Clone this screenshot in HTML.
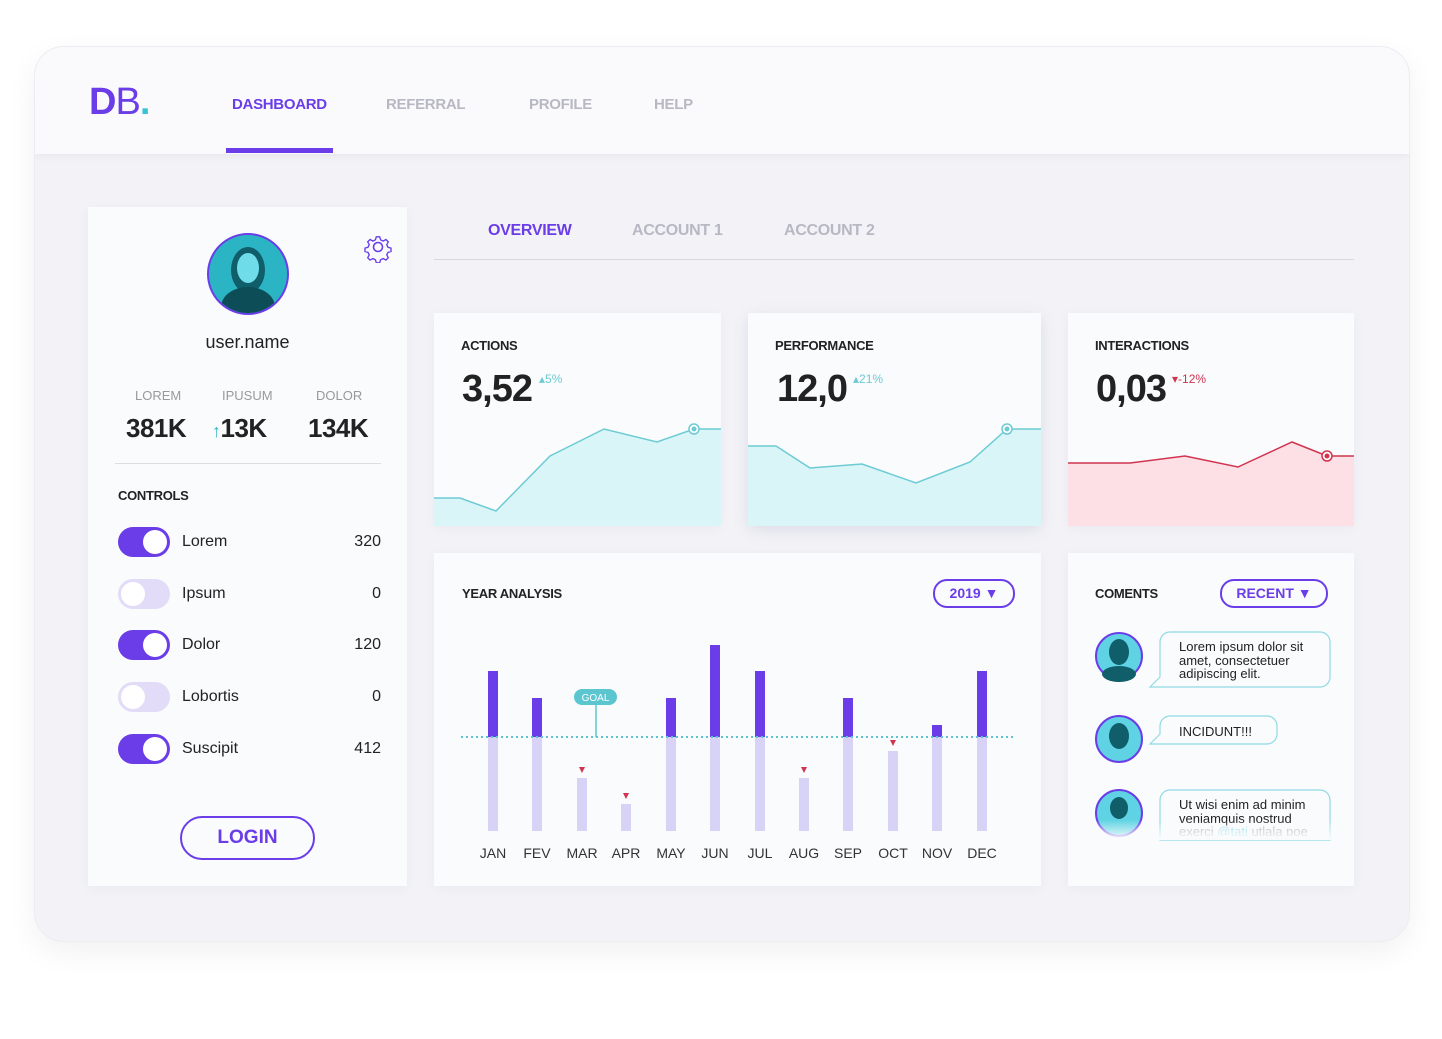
<!DOCTYPE html>
<html><head><meta charset="utf-8"><style>
body{margin:0;width:1442px;height:1039px;background:#fff;font-family:"Liberation Sans",sans-serif;position:relative;overflow:hidden}
.a{position:absolute}
.outer{left:34px;top:46px;width:1374px;height:894px;border-radius:30px;background:#f3f3f7;box-shadow:0 10px 30px rgba(0,0,0,.06);overflow:hidden;border:1px solid #ececf2}
.hdr{left:0;top:0;width:1374px;height:107px;background:#fafafc;box-shadow:0 2px 8px rgba(0,0,0,.05)}
.card{background:#fafbfd;box-shadow:0 2px 10px rgba(60,60,120,.06)}
.nav{font-weight:bold;font-size:15px;color:#b8b8c4;letter-spacing:-0.3px}
.t{font-size:13px;font-weight:bold;color:#222;letter-spacing:-0.3px}
.tog{width:52px;height:30px;border-radius:15px}
.tog i{position:absolute;top:3px;width:24px;height:24px;border-radius:50%;background:#fff}
.lbl{font-size:16px;color:#222}
.num{font-size:16px;color:#222;text-align:right;width:40px}
.big{font-size:38px;font-weight:bold;color:#222;letter-spacing:-1px}
</style></head><body>
<div class="a outer">
 <div class="a hdr">
  <div class="a" style="left:54px;top:34px;font-size:38px;font-weight:bold;color:#6a3de8;letter-spacing:-1px">D<span style="font-weight:normal">B</span><span style="color:#39c4d4">.</span></div>
  <div class="a nav" style="left:197px;top:49px;color:#6a3de8">DASHBOARD</div>
  <div class="a" style="left:191px;top:101px;width:107px;height:5px;background:#6a3de8"></div>
  <div class="a nav" style="left:351px;top:49px">REFERRAL</div>
  <div class="a nav" style="left:494px;top:49px">PROFILE</div>
  <div class="a nav" style="left:619px;top:49px">HELP</div>
 </div>
</div>
<!-- left card -->
<div class="a card" style="left:88px;top:207px;width:319px;height:679px"></div>
<div class="a" style="left:207px;top:233px;width:78px;height:78px;border-radius:50%;border:2px solid #6a3de8;background:#2bb5c4;overflow:hidden"><div class="a" style="left:22px;top:12px;width:34px;height:46px;border-radius:50%;background:#0f5e6a"></div><div class="a" style="left:28px;top:18px;width:22px;height:30px;border-radius:50%;background:#6fdcea"></div><div class="a" style="left:12px;top:52px;width:54px;height:40px;border-radius:50%;background:#0c4d57"></div></div>
<svg class="a" style="left:362px;top:231px" width="32" height="32" viewBox="0 0 32 32"><g fill="none" stroke="#6a3de8" stroke-width="1.6"><circle cx="16" cy="16" r="4.5"/><path d="M14,4h4l1,3.5 3,1.5 3.3-1.8 2.8,2.8-1.8,3.3 1.5,3 3.5,1v4l-3.5,1-1.5,3 1.8,3.3-2.8,2.8-3.3-1.8-3,1.5-1,3.5h-4l-1-3.5-3-1.5-3.3,1.8-2.8-2.8 1.8-3.3-1.5-3-3.5-1v-4l3.5-1 1.5-3-1.8-3.3 2.8-2.8 3.3,1.8 3-1.5z" transform="translate(16 16) scale(.85) translate(-16 -16)"/></g></svg>
<div class="a" style="left:88px;top:332px;width:319px;text-align:center;font-size:18px;color:#222">user.name</div>
<div class="a" style="left:135px;top:388px;font-size:13px;color:#999">LOREM</div>
<div class="a" style="left:222px;top:388px;font-size:13px;color:#999">IPUSUM</div>
<div class="a" style="left:316px;top:388px;font-size:13px;color:#999">DOLOR</div>
<div class="a" style="left:126px;top:413px;font-size:26px;font-weight:bold;color:#222;letter-spacing:-0.5px">381K</div>
<div class="a" style="left:212px;top:413px;font-size:26px;font-weight:bold;color:#222;letter-spacing:-0.5px"><span style="color:#39b4c4;font-size:18px;font-weight:normal">↑</span>13K</div>
<div class="a" style="left:308px;top:413px;font-size:26px;font-weight:bold;color:#222;letter-spacing:-0.5px">134K</div>
<div class="a" style="left:115px;top:463px;width:266px;height:1px;background:#ddd"></div>
<div class="a t" style="left:118px;top:488px">CONTROLS</div>
<div class="a tog" style="left:118px;top:527px;background:#6a3de8"><i style="left:25px"></i></div>
<div class="a tog" style="left:118px;top:579px;background:#e2dcf8"><i style="left:3px"></i></div>
<div class="a tog" style="left:118px;top:630px;background:#6a3de8"><i style="left:25px"></i></div>
<div class="a tog" style="left:118px;top:682px;background:#e2dcf8"><i style="left:3px"></i></div>
<div class="a tog" style="left:118px;top:734px;background:#6a3de8"><i style="left:25px"></i></div>
<div class="a lbl" style="left:182px;top:533px">Lorem</div><div class="a num" style="left:341px;top:533px">320</div>
<div class="a lbl" style="left:182px;top:585px">Ipsum</div><div class="a num" style="left:341px;top:585px">0</div>
<div class="a lbl" style="left:182px;top:636px">Dolor</div><div class="a num" style="left:341px;top:636px">120</div>
<div class="a lbl" style="left:182px;top:688px">Lobortis</div><div class="a num" style="left:341px;top:688px">0</div>
<div class="a lbl" style="left:182px;top:740px">Suscipit</div><div class="a num" style="left:341px;top:740px">412</div>
<div class="a" style="left:180px;top:816px;width:131px;height:40px;border:2px solid #6a3de8;border-radius:22px;text-align:center;line-height:40px;font-size:19px;font-weight:bold;color:#6a3de8">LOGIN</div>
<!-- tabs -->
<div class="a nav" style="left:488px;top:222px;font-size:16px;color:#6a3de8">OVERVIEW</div>
<div class="a nav" style="left:632px;top:222px;font-size:16px">ACCOUNT 1</div>
<div class="a nav" style="left:784px;top:222px;font-size:16px">ACCOUNT 2</div>
<div class="a" style="left:434px;top:259px;width:920px;height:1px;background:#d8d8e0"></div>
<!-- stat cards -->
<div class="a card" style="left:434px;top:313px;width:287px;height:213px"></div>
<div class="a card" style="left:748px;top:313px;width:293px;height:213px;box-shadow:0 4px 16px rgba(60,60,120,.12)"></div>
<div class="a card" style="left:1068px;top:313px;width:286px;height:213px"></div>
<svg class="a" style="left:0;top:0" width="1442" height="1039">
<polygon points="434,498 460,498 496,511 550,456 604,429 657,442 694,429 721,429 721,526 434,526" fill="#daf5f8"/>
<polyline points="434,498 460,498 496,511 550,456 604,429 657,442 694,429 721,429" fill="none" stroke="#6ccbd4" stroke-width="1.5"/>
<circle cx="694" cy="429" r="5" fill="#fff" stroke="#6ccbd4" stroke-width="1.5"/><circle cx="694" cy="429" r="2.5" fill="#6ccbd4"/>
<polygon points="748,446 776,446 810,468 862,464 916,483 970,462 1007,429 1041,429 1041,526 748,526" fill="#daf5f8"/>
<polyline points="748,446 776,446 810,468 862,464 916,483 970,462 1007,429 1041,429" fill="none" stroke="#6ccbd4" stroke-width="1.5"/>
<circle cx="1007" cy="429" r="5" fill="#fff" stroke="#6ccbd4" stroke-width="1.5"/><circle cx="1007" cy="429" r="2.5" fill="#6ccbd4"/>
<polygon points="1068,463 1130,463 1185,456 1238,467 1292,442 1327,456 1354,456 1354,526 1068,526" fill="#fde0e6"/>
<polyline points="1068,463 1130,463 1185,456 1238,467 1292,442 1327,456 1354,456" fill="none" stroke="#d0344e" stroke-width="1.5"/>
<circle cx="1327" cy="456" r="5" fill="#fff" stroke="#d0344e" stroke-width="1.5"/><circle cx="1327" cy="456" r="2.5" fill="#d0344e"/>
</svg>
<div class="a t" style="left:461px;top:338px">ACTIONS</div>
<div class="a big" style="left:462px;top:368px">3,52</div>
<div class="a" style="left:539px;top:372px;font-size:12px;color:#6ccbd4">▴5%</div>
<div class="a t" style="left:775px;top:338px">PERFORMANCE</div>
<div class="a big" style="left:777px;top:368px">12,0</div>
<div class="a" style="left:853px;top:372px;font-size:12px;color:#6ccbd4">▴21%</div>
<div class="a t" style="left:1095px;top:338px">INTERACTIONS</div>
<div class="a big" style="left:1096px;top:368px">0,03</div>
<div class="a" style="left:1172px;top:372px;font-size:12px;color:#d0344e">▾-12%</div>
<!-- year analysis -->
<div class="a card" style="left:434px;top:553px;width:607px;height:333px"></div>
<div class="a t" style="left:462px;top:586px">YEAR ANALYSIS</div>
<div class="a" style="left:933px;top:579px;width:78px;height:25px;border:2px solid #6a3de8;border-radius:14px;text-align:center;line-height:25px;font-size:14px;font-weight:bold;color:#6a3de8">2019 ▼</div>
<svg class="a" style="left:0;top:0" width="1442" height="1039">
<g fill="#d9d2f7">
<rect x="488" y="737" width="10" height="94"/><rect x="532" y="737" width="10" height="94"/><rect x="577" y="778" width="10" height="53"/><rect x="621" y="804" width="10" height="27"/><rect x="666" y="737" width="10" height="94"/><rect x="710" y="737" width="10" height="94"/><rect x="755" y="737" width="10" height="94"/><rect x="799" y="778" width="10" height="53"/><rect x="843" y="737" width="10" height="94"/><rect x="888" y="751" width="10" height="80"/><rect x="932" y="737" width="10" height="94"/><rect x="977" y="737" width="10" height="94"/>
</g>
<g fill="#6a3de8">
<rect x="488" y="671" width="10" height="66"/><rect x="532" y="698" width="10" height="39"/><rect x="666" y="698" width="10" height="39"/><rect x="710" y="645" width="10" height="92"/><rect x="755" y="671" width="10" height="66"/><rect x="843" y="698" width="10" height="39"/><rect x="932" y="725" width="10" height="12"/><rect x="977" y="671" width="10" height="66"/>
</g>
<line x1="461" y1="737" x2="1014" y2="737" stroke="#5cc6d0" stroke-width="2" stroke-dasharray="2,3"/>
<line x1="596" y1="703" x2="596" y2="737" stroke="#5cc6d0" stroke-width="1.5"/>
<rect x="574" y="689" width="43" height="16" rx="8" fill="#5cc6d0"/>
<text x="595.5" y="701" font-size="10" fill="#fff" text-anchor="middle" font-family="Liberation Sans">GOAL</text>
<g fill="#d0344e"><polygon points="579,767 585,767 582,773"/><polygon points="623,793 629,793 626,799"/><polygon points="801,767 807,767 804,773"/><polygon points="890,740 896,740 893,746"/></g>
<g font-size="14" fill="#333" text-anchor="middle" font-family="Liberation Sans">
<text x="493" y="858">JAN</text><text x="537" y="858">FEV</text><text x="582" y="858">MAR</text><text x="626" y="858">APR</text><text x="671" y="858">MAY</text><text x="715" y="858">JUN</text><text x="760" y="858">JUL</text><text x="804" y="858">AUG</text><text x="848" y="858">SEP</text><text x="893" y="858">OCT</text><text x="937" y="858">NOV</text><text x="982" y="858">DEC</text>
</g>
</svg>
<!-- comments -->
<div class="a card" style="left:1068px;top:553px;width:286px;height:333px"></div>
<div class="a t" style="left:1095px;top:586px">COMENTS</div>
<div class="a" style="left:1220px;top:579px;width:104px;height:25px;border:2px solid #6a3de8;border-radius:14px;text-align:center;line-height:25px;font-size:14px;font-weight:bold;color:#6a3de8">RECENT ▼</div>
<svg class="a" style="left:0;top:0" width="1442" height="1039">
<g stroke="#6a3de8" stroke-width="2" fill="#5fd3e3">
<circle cx="1119" cy="656" r="23"/><circle cx="1119" cy="739" r="23"/><circle cx="1119" cy="813" r="23"/></g>
<g fill="#0f5e6a"><ellipse cx="1119" cy="652" rx="10" ry="13"/><ellipse cx="1119" cy="674" rx="17" ry="8"/><ellipse cx="1119" cy="736" rx="10" ry="13"/><ellipse cx="1119" cy="808" rx="9" ry="11"/></g>
<g fill="#fafbfd" stroke="#8fdbe3" stroke-width="1.2">
<path d="M1170,632 H1320 a10,10 0 0 1 10,10 V677 a10,10 0 0 1 -10,10 H1150 L1160,677 V642 a10,10 0 0 1 10,-10Z"/>
<path d="M1170,716 H1267 a10,10 0 0 1 10,10 V734 a10,10 0 0 1 -10,10 H1150 L1160,734 V726 a10,10 0 0 1 10,-10Z"/>
<path d="M1170,790 H1320 a10,10 0 0 1 10,10 V840 H1160 V800 a10,10 0 0 1 10,-10Z"/>
</g></svg>
<div class="a" style="left:1179px;top:640px;font-size:13px;line-height:13.5px;color:#222">Lorem ipsum dolor sit<br>amet, consectetuer<br>adipiscing elit.</div>
<div class="a" style="left:1179px;top:724px;font-size:13px;color:#222">INCIDUNT!!!</div>
<div class="a" style="left:1179px;top:798px;font-size:13px;line-height:13.5px;color:#222;height:38px;overflow:hidden">Ut wisi enim ad minim<br>veniamquis nostrud<br><span style="color:#aaa">exerci <span style="color:#8fdbe3">@tati</span> utlala poe</span></div>
<div class="a" style="left:1090px;top:820px;width:250px;height:20px;background:linear-gradient(rgba(250,251,253,0),#fafbfd)"></div>
</body></html>
